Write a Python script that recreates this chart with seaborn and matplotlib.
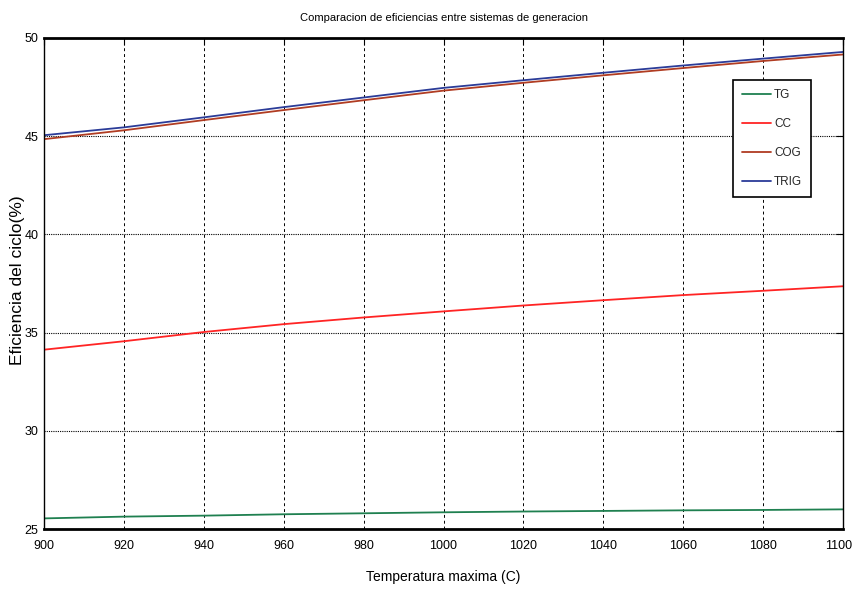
import matplotlib
matplotlib.use("Agg")
import matplotlib.pyplot as plt
import matplotlib.transforms as mtransforms
import seaborn as sns
import pandas as pd

temps = [900, 920, 940, 960, 980, 1000, 1020, 1040, 1060, 1080, 1100]
tg = [25.54, 25.63, 25.68, 25.75, 25.80, 25.85, 25.89, 25.92, 25.95, 25.97, 26.00]
cc = [34.13, 34.56, 35.03, 35.43, 35.77, 36.08, 36.38, 36.65, 36.91, 37.13, 37.36]
cog = [44.85, 45.30, 45.82, 46.33, 46.83, 47.32, 47.72, 48.10, 48.47, 48.83, 49.16]
trig = [45.05, 45.45, 45.96, 46.48, 46.97, 47.46, 47.85, 48.23, 48.60, 48.95, 49.29]
series = ["TG", "CC", "COG", "TRIG"]
colors = ["#1f8050", "#ff2424", "#b03c22", "#2b3c98"]

df = pd.DataFrame({
    "T": temps * 4,
    "eff": tg + cc + cog + trig,
    "sys": sum([[s] * len(temps) for s in series], []),
})

sns.set_theme(style="white")
plt.rcParams["font.family"] = ["Liberation Sans", "DejaVu Sans"]

fig = plt.figure(figsize=(8.55, 5.89), dpi=100)
ax = fig.add_axes([44 / 855, 60 / 589, 799 / 855, 491 / 589])

sns.lineplot(data=df, x="T", y="eff", hue="sys", hue_order=series,
             palette=colors, linewidth=1.3, ax=ax, legend=True)

ax.set_xlim(900, 1100)
ax.set_ylim(25, 50)
ax.set_xticks(list(range(900, 1101, 20)))
ax.set_yticks([25, 30, 35, 40, 45, 50])
ax.tick_params(direction="in", length=5, width=0.8, top=True, right=True,
               labelsize=9, colors="black")
ax.tick_params(axis="x", pad=8)
ax.tick_params(axis="y", pad=4)
ax.xaxis.grid(True, color="black", linestyle=(0, (3, 3)), linewidth=0.7)
ax.yaxis.grid(True, color="black", linestyle=(0, (1, 1)), linewidth=0.8)
for sp in ax.spines.values():
    sp.set_color("black")
    sp.set_linewidth(1.0)
ax.spines["bottom"].set_linewidth(2.0)
ax.spines["top"].set_linewidth(2.0)

# keep the last x tick label inside the figure
fig.canvas.draw()
last = ax.get_xticklabels()[-1]
last.set_transform(last.get_transform() +
                   mtransforms.ScaledTranslation(-4 / 100, 0, fig.dpi_scale_trans))

ax.set_title("Comparacion de eficiencias entre sistemas de generacion",
             fontsize=8, pad=12, color="black")
ax.set_xlabel("Temperatura maxima (C)", fontsize=10, color="black", labelpad=13)
ax.set_ylabel("Eficiencia del ciclo(%)", fontsize=12.5, color="black")
ax.yaxis.set_label_coords(-0.024, 0.507)

leg = ax.legend(loc="upper right", bbox_to_anchor=(0.96, 0.914), borderaxespad=0,
                fancybox=False, edgecolor="black", framealpha=1, fontsize=8.5,
                handlelength=2.5, labelspacing=1.45, borderpad=0.75,
                handletextpad=0.25, title=None)
leg.get_frame().set_linewidth(1.2)

fig.savefig("out.png", dpi=100)
